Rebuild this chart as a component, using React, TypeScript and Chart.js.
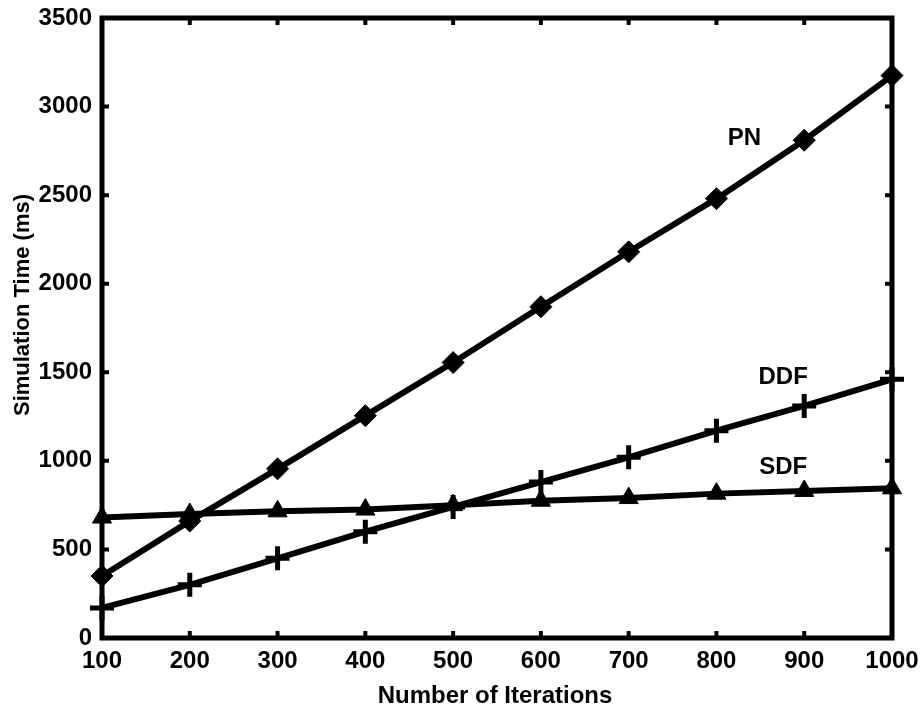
import React, { useEffect, useRef } from "react";
import { Chart, registerables } from "chart.js";

Chart.register(...registerables);

const iterations = [100, 200, 300, 400, 500, 600, 700, 800, 900, 1000];
const pnValues = [350, 660, 955, 1255, 1555, 1870, 2180, 2480, 2810, 3175];
const ddfValues = [170, 300, 450, 600, 740, 880, 1020, 1170, 1310, 1460];
const sdfValues = [680, 700, 715, 725, 750, 775, 790, 815, 830, 845];
const seriesLabels = [
  { text: "PN", x: 832, y: 2823 },
  { text: "DDF", x: 876, y: 1474 },
  { text: "SDF", x: 876, y: 966 },
];
const xTitle = "Number of Iterations";
const yTitle = "Simulation Time (ms)";

const FONT = "'Liberation Sans', Arial, sans-serif";

const framePlugin = {
  id: "frame",
  beforeDatasetsDraw(chart: any) {
    const { ctx, chartArea } = chart;
    const { left, right, top, bottom } = chartArea;
    const xs = chart.scales.x;
    const ys = chart.scales.y;
    ctx.save();
    ctx.strokeStyle = "#000";
    ctx.lineWidth = 5;
    ctx.strokeRect(left, top, right - left, bottom - top);
    ctx.lineWidth = 4;
    const len = 7;
    ctx.beginPath();
    xs.ticks.forEach((t: any) => {
      const px = xs.getPixelForValue(t.value);
      ctx.moveTo(px, bottom);
      ctx.lineTo(px, bottom - len);
      ctx.moveTo(px, top);
      ctx.lineTo(px, top + len);
    });
    ys.ticks.forEach((t: any) => {
      const py = ys.getPixelForValue(t.value);
      ctx.moveTo(left, py);
      ctx.lineTo(left + len, py);
      ctx.moveTo(right, py);
      ctx.lineTo(right - len, py);
    });
    ctx.stroke();
    ctx.restore();
  },
  afterDraw(chart: any) {
    const { ctx, chartArea } = chart;
    const xs = chart.scales.x;
    const ys = chart.scales.y;
    ctx.save();
    ctx.fillStyle = "#000";
    ctx.font = `bold 24px ${FONT}`;
    ctx.textAlign = "center";
    ctx.textBaseline = "middle";
    seriesLabels.forEach((l) => {
      ctx.fillText(l.text, xs.getPixelForValue(l.x), ys.getPixelForValue(l.y));
    });
    ctx.fillText(xTitle, (chartArea.left + chartArea.right) / 2 - 2, 696);
    ctx.translate(23, 305);
    ctx.rotate(-Math.PI / 2);
    ctx.font = `bold 22px ${FONT}`;
    ctx.fillText(yTitle, 0, 0);
    ctx.restore();
  },
};

export default function App() {
  const ref = useRef<HTMLCanvasElement>(null);
  useEffect(() => {
    document.body.style.margin = "0";
    const common = {
      borderColor: "#000",
      backgroundColor: "#000",
      pointBorderColor: "#000",
      pointBackgroundColor: "#000",
      borderWidth: 6,
      clip: false as any,
      tension: 0,
    };
    const chart = new Chart(ref.current!, {
      type: "line",
      data: {
        labels: iterations,
        datasets: [
          {
            ...common,
            label: "PN",
            data: iterations.map((x, i) => ({ x, y: pnValues[i] })),
            pointStyle: "rectRot",
            pointRadius: 11,
            pointBorderWidth: 1,
          },
          {
            ...common,
            label: "DDF",
            data: iterations.map((x, i) => ({ x, y: ddfValues[i] })),
            pointStyle: "cross",
            pointRadius: 12,
            pointBorderWidth: 5,
          },
          {
            ...common,
            label: "SDF",
            data: iterations.map((x, i) => ({ x, y: sdfValues[i] })),
            pointStyle: "triangle",
            pointRadius: 11,
            pointBorderWidth: 1,
          },
        ],
      },
      options: {
        animation: false,
        responsive: false,
        layout: { padding: { top: 18, right: 31, left: 0, bottom: 0 } },
        plugins: { legend: { display: false }, tooltip: { enabled: false } },
        scales: {
          x: {
            type: "linear",
            min: 100,
            max: 1000,
            grid: { display: false, drawTicks: false },
            border: { display: false },
            ticks: {
              stepSize: 100,
              color: "#000",
              padding: 9,
              maxRotation: 0,
              callback: (v: any) => String(v),
              font: { family: FONT, size: 24, weight: "bold" },
            },
            afterFit(scale: any) {
              scale.height = 74;
              scale.paddingLeft = 0;
              scale.paddingRight = 0;
            },
          },
          y: {
            min: 0,
            max: 3500,
            grid: { display: false, drawTicks: false },
            border: { display: false },
            ticks: {
              stepSize: 500,
              color: "#000",
              padding: 10,
              callback: (v: any) => String(v),
              font: { family: FONT, size: 24, weight: "bold" },
            },
            afterFit(scale: any) {
              scale.width = 102;
              scale.paddingTop = 0;
              scale.paddingBottom = 0;
            },
          },
        },
      },
      plugins: [framePlugin],
    });
    return () => chart.destroy();
  }, []);
  return (
    <div style={{ width: 923, height: 712 }}>
      <canvas ref={ref} width={923} height={712} />
    </div>
  );
}
